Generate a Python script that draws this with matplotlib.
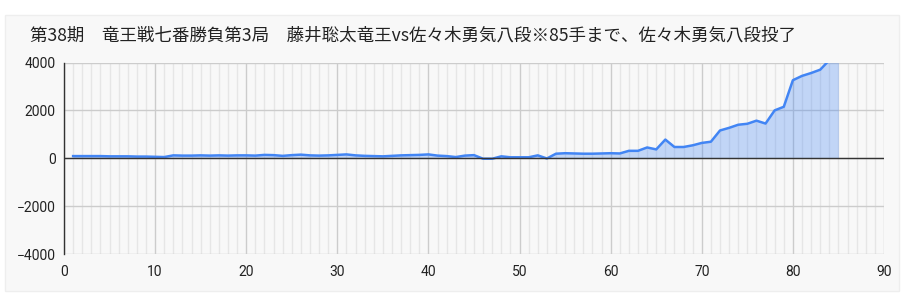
import numpy as np
import matplotlib
matplotlib.use("Agg")
import matplotlib.pyplot as plt
from matplotlib.patches import Rectangle
from matplotlib.ticker import MultipleLocator


TITLE = "第38期　竜王戦七番勝負第3局　藤井聡太竜王vs佐々木勇気八段※85手まで、佐々木勇気八段投了"

# evaluation value per move (move 1..85)
moves = list(range(1, 86))
scores = [
    90, 90, 90, 90, 80, 80, 80, 70, 70, 60,
    50, 120, 110, 110, 120, 110, 120, 110, 120, 120,
    110, 140, 130, 100, 130, 150, 120, 110, 120, 140,
    160, 120, 100, 90, 80, 100, 120, 130, 140, 160,
    110, 90, 50, 110, 130, -20, -20, 80, 40, 40,
    40, 120, -10, 190, 210, 200, 190, 190, 200, 210,
    200, 310, 310, 450, 370, 780, 470, 470, 540, 640,
    690, 1160, 1270, 1400, 1440, 1570, 1450, 2000, 2150, 3260,
    3440, 3560, 3700, 4100, 5000,
]

x_ticks = [0, 10, 20, 30, 40, 50, 60, 70, 80, 90]
y_ticks = [-4000, -2000, 0, 2000, 4000]

LINE_COLOR = "#4285f4"
BG = "#f8f8f8"

W, H = 912, 302
fig = plt.figure(figsize=(W / 100, H / 100), dpi=100)
fig.patch.set_facecolor("white")

# card panel behind the chart
fig.patches.append(Rectangle((5 / W, 1 - 291 / H), 894 / W, 276 / H,
                             transform=fig.transFigure, facecolor=BG,
                             edgecolor="#eeeeee", linewidth=1, zorder=-10))

ax = fig.add_axes([64 / W, 1 - 254 / H, 820 / W, 191.5 / H])
ax.set_facecolor("none")

ax.fill_between(moves, scores, 0, color=LINE_COLOR, alpha=0.3, linewidth=0, zorder=2)
ax.plot(moves, scores, color=LINE_COLOR, linewidth=1.8, zorder=3)
ax.axhline(0, color="#333333", linewidth=1, zorder=4)

ax.set_xlim(0, 90)
ax.set_ylim(-4000, 4000)
ax.set_xticks(x_ticks)
ax.set_yticks(y_ticks)
ax.xaxis.set_minor_locator(MultipleLocator(1))

ax.grid(which="major", axis="both", color="#cccccc", linewidth=1, zorder=1)
ax.grid(which="minor", axis="x", color="#e6e6e6", linewidth=1, zorder=0.9)
ax.set_axisbelow(True)

for side in ["top", "right", "bottom"]:
    ax.spines[side].set_visible(False)
ax.spines["left"].set_color("#333333")
ax.spines["left"].set_linewidth(1)
ax.spines["left"].set_zorder(5)

ax.tick_params(which="both", length=0)
ax.tick_params(axis="y", pad=6, labelsize=10, labelcolor="#222222")
ax.tick_params(axis="x", pad=8, labelsize=10, labelcolor="#222222")
for lab in ax.get_xticklabels() + ax.get_yticklabels():
    lab.set_fontfamily(["Roboto", "DejaVu Sans"])

fig.text(30 / W, 1 - 36 / H, TITLE, fontsize=12.6, color="#222222",
         va="center", ha="left",
         family=["Noto Sans CJK JP", "DejaVu Sans"])

fig.savefig("out.png", dpi=100, facecolor=fig.get_facecolor())
